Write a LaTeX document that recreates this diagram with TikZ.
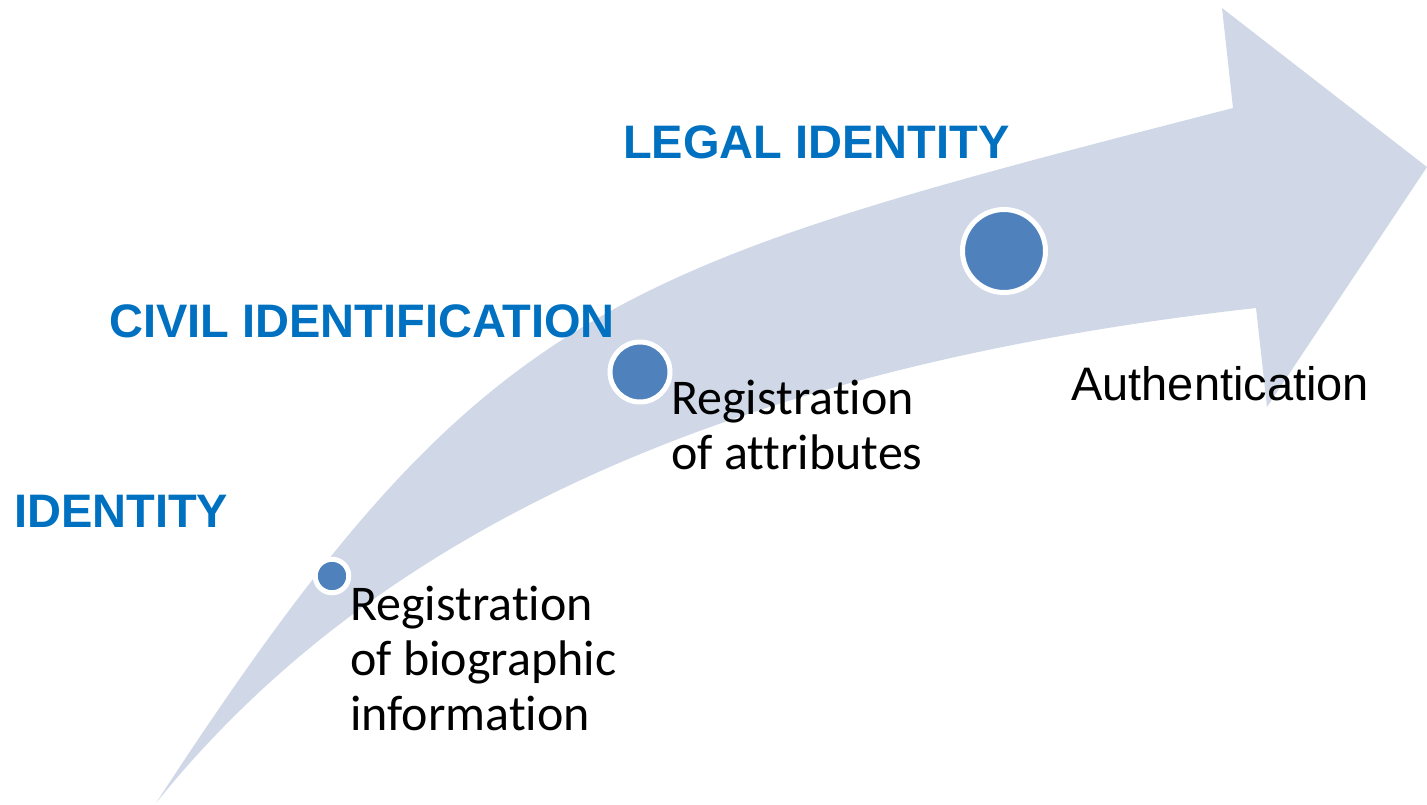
\documentclass[tikz,border=0pt]{standalone}
\usepackage{fontspec}
\newfontfamily\headfont{Liberation Sans}
\newfontfamily\bodyfont[Ligatures=NoCommon]{Carlito}
\definecolor{arrowgrey}{RGB}{208,216,232}
\definecolor{dotblue}{RGB}{79,129,189}
\definecolor{headblue}{RGB}{0,112,192}
\usepackage{tikz}

\begin{document}
\begin{tikzpicture}[x=1pt,y=-1pt]

%
% Styles
%
\tikzstyle{dot}    = [circle,fill=dotblue,draw=white,line width=5pt,inner sep=0pt]
\tikzstyle{head}   = [anchor=base west,inner sep=0pt,text=headblue,font=\headfont\bfseries\fontsize{47}{54}\selectfont]
\tikzstyle{stage}  = [anchor=base west,inner sep=0pt,align=left,font=\bodyfont\fontsize{50}{55}\selectfont]

\useasboundingbox (0,0) rectangle (1427,804);

% the big bent arrow
\fill[arrowgrey] (156,803) .. controls (484,300) and (604,270) .. (1233,108)
  -- (1222,8) -- (1427,167) -- (1267,407) -- (1256,308)
  .. controls (809,358) and (407,491) .. (156,803) -- cycle;

\node[dot,minimum size=33.5pt] (d1) at (332,576) {};
\node[dot,minimum size=60pt]   (d2) at (640,372) {};
\node[dot,minimum size=83pt]   (d3) at (1004,251) {};

\node[head] (id)    at (14,527)  {IDENTITY};
\node[head] (civil) at (109,337) {CIVIL IDENTIFICATION};
\node[head] (legal) at (623,158) {LEGAL IDENTITY};

% base anchor sits on the last line
\node[stage] (bio)  at (350,730) {Registration\\of biographic\\information};
\node[stage] (attr) at (671,469) {Registration\\of attributes};
\node[anchor=base west,inner sep=0pt,font=\headfont\fontsize{47}{55}\selectfont] (auth) at (1071,400) {Authentication};

\end{tikzpicture}
\end{document}
